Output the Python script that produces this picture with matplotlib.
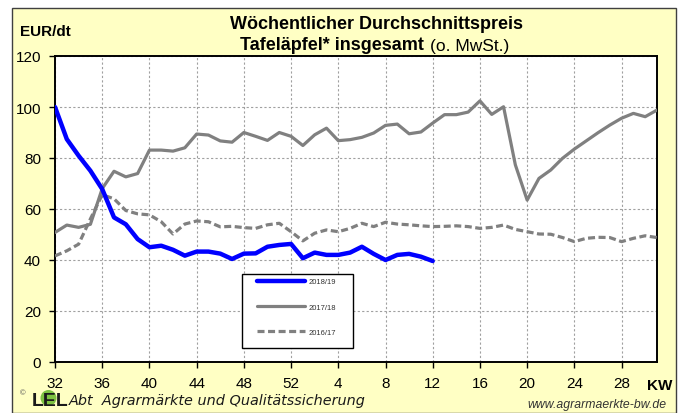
import matplotlib
matplotlib.use("Agg")
import matplotlib.pyplot as plt
from matplotlib.patches import Rectangle, Ellipse

plt.rcParams['font.family'] = ['Liberation Sans', 'DejaVu Sans']

# week labels (KW 32 .. KW 31 of the next year)
weeks = list(range(32, 53)) + list(range(1, 32))
tick_weeks = [32, 36, 40, 44, 48, 52, 4, 8, 12, 16, 20, 24, 28]

price_2018_19 = [100, 87.4, 80.9, 75, 67.8, 56.7, 54, 48.2, 45, 45.6, 44, 41.7,
                 43.3, 43.3, 42.5, 40.4, 42.5, 42.6, 45.2, 45.9, 46.3, 40.7,
                 42.9, 42, 42, 42.9, 45.2, 42.4, 40, 42, 42.4, 41.3, 39.6]
price_2017_18 = [50.8, 53.7, 52.8, 54, 68, 74.8, 72.6, 73.9, 83.1, 83.1, 82.7, 84,
                 89.4, 89, 86.7, 86.2, 90, 88.5, 86.9, 90, 88.5, 84.9, 89.1, 91.7,
                 86.8, 87.2, 88.1, 89.8, 92.8, 93.3, 89.5, 90.2, 93.7, 97, 97,
                 98, 102.4, 97.1, 100.1, 77.3, 63.5, 72, 75.3, 79.9, 83.5, 86.7,
                 89.9, 92.9, 95.6, 97.5, 96.2, 98.8]
price_2016_17 = [41.6, 43.6, 46.2, 56.1, 65.6, 64, 59.4, 58.1, 57.7, 55, 50.2, 54.1,
                 55.3, 55, 53, 53.2, 52.7, 52.4, 53.8, 54.4, 51.1, 47.5, 50.5, 51.8,
                 51.1, 52.4, 54.4, 53.1, 54.8, 54.1, 53.8, 53.4, 53.1, 53.2, 53.4,
                 53.1, 52.4, 52.8, 53.7, 52, 51.1, 50.2, 50.1, 48.8, 47.2, 48.5,
                 48.9, 48.8, 47.2, 48.5, 49.5, 48.8]
series_labels = ['2018/19', '2017/18', '2016/17']

W, H = 682, 414
fig = plt.figure(figsize=(W / 100, H / 100), dpi=100)
fig.patch.set_facecolor('white')


def fx(px):
    return px / W


def fy(py):
    return 1 - py / H


# yellow panel behind everything
fig.patches.append(Rectangle((fx(12), 0), fx(676) - fx(12), fy(9), transform=fig.transFigure,
                             facecolor='#FFFFC4', edgecolor='#404040', lw=1.0, zorder=-10))

ax = fig.add_axes([fx(55), fy(363), fx(657) - fx(55), fy(57) - fy(363)])
ax.set_facecolor('white')

x = list(range(len(weeks)))
l3, = ax.plot(x[:len(price_2016_17)], price_2016_17, color='#808080', lw=2.3,
              dashes=(2.2, 1.1), solid_joinstyle='round', zorder=3)
l2, = ax.plot(x[:len(price_2017_18)], price_2017_18, color='#808080', lw=2.3,
              solid_joinstyle='round', solid_capstyle='round', zorder=4)
l1, = ax.plot(x[:len(price_2018_19)], price_2018_19, color='#0000FF', lw=3.2,
              solid_joinstyle='round', solid_capstyle='round', zorder=5)

ax.set_xlim(0, 51)
ax.set_ylim(0, 120)
ax.set_yticks(range(0, 121, 20))
tick_pos = [weeks.index(w) for w in tick_weeks]
ax.set_xticks(tick_pos)
ax.set_xticklabels([str(w) for w in tick_weeks])
ax.tick_params(axis='both', labelsize=11, length=4, width=1, direction='out',
               color='black', pad=6)
ax.grid(True, color='#A0A0A0', lw=0.8, linestyle=(0, (2, 2)))
ax.set_axisbelow(True)
for s in ax.spines.values():
    s.set_color('black')
    s.set_linewidth(1.4)

# legend box
ax.add_patch(Rectangle((fx(242), fy(349)), fx(353) - fx(242), fy(275) - fy(349),
                       transform=fig.transFigure, facecolor='white', edgecolor='black',
                       lw=1.0, zorder=6, clip_on=False))
leg = ax.legend([l1, l2, l3], series_labels, loc='upper left',
                bbox_to_anchor=(fx(257), fy(279)), bbox_transform=fig.transFigure,
                frameon=False, fontsize=5.5, handlelength=6.3, labelspacing=2.35,
                handletextpad=0.4, borderpad=0, borderaxespad=0)
leg.set_zorder(7)
for t in leg.get_texts():
    t.set_color('#333333')

# titles and labels
fig.text(fx(377), fy(29), 'Wöchentlicher Durchschnittspreis', ha='center', va='baseline',
         fontsize=13, fontweight='bold')
fig.text(fx(424), fy(50.5), 'Tafeläpfel* insgesamt', ha='right', va='baseline',
         fontsize=13, fontweight='bold')
fig.text(fx(430), fy(50.5), '(o. MwSt.)', ha='left', va='baseline', fontsize=12.5)
fig.text(fx(20), fy(36.5), 'EUR/dt', ha='left', va='baseline', fontsize=11, fontweight='bold')
fig.text(fx(672), fy(390), 'KW', ha='right', va='baseline', fontsize=11, fontweight='bold')

# footer
fig.text(fx(20), fy(394), '©', ha='left', va='center', fontsize=5.5, color='#555555')
fig.patches.append(Ellipse((fx(48.5), fy(399)), 16 / W, 16 / H, transform=fig.transFigure,
                           facecolor='#7DC242', edgecolor='none', zorder=2))
fig.text(fx(32), fy(406), 'LEL', ha='left', va='baseline', fontsize=14, fontweight='bold',
         color='#1A1A1A', zorder=3)
fig.text(fx(69), fy(405.5), 'Abt  Agrarmärkte und Qualitätssicherung', ha='left',
         va='baseline', fontsize=10.4, style='italic', color='#1A1A1A',
         family='DejaVu Sans')
fig.text(fx(667), fy(408), 'www.agrarmaerkte-bw.de', ha='right', va='baseline',
         fontsize=8.8, style='italic', color='#333333')

fig.savefig('out.png', dpi=100, facecolor=fig.get_facecolor())
